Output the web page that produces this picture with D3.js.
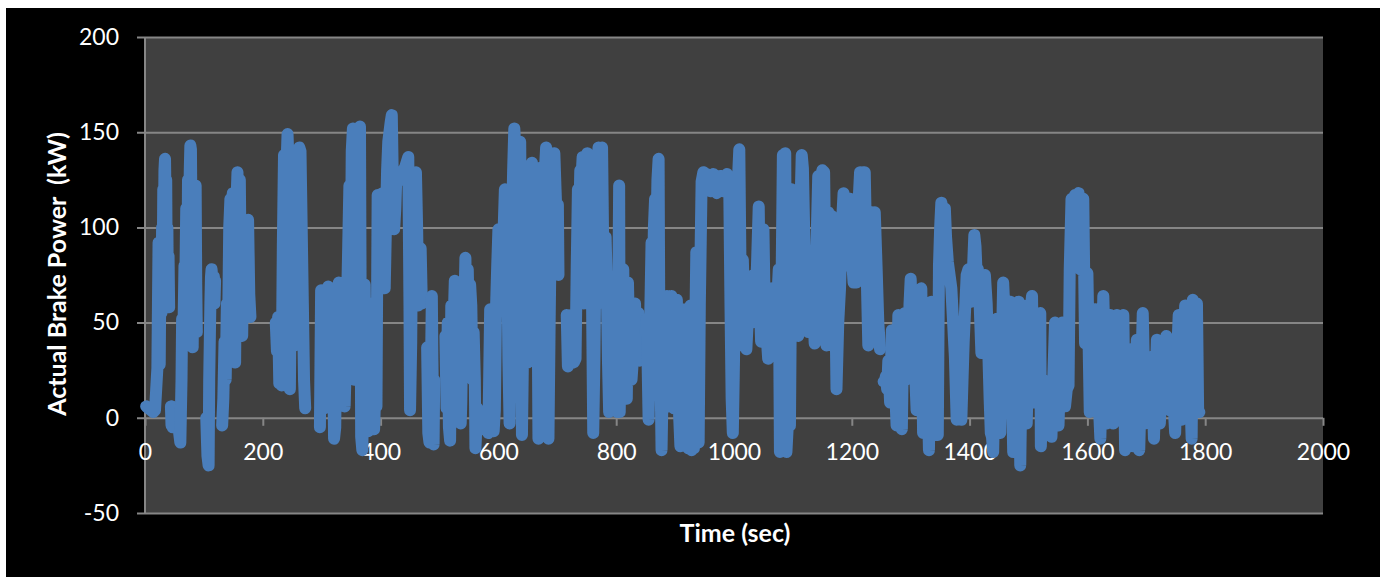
<!DOCTYPE html>
<html><head><meta charset="utf-8">
<script src="https://cdn.jsdelivr.net/npm/d3@7/dist/d3.min.js"></script>
<style>
body{margin:0;background:#fff;}
svg{display:block;}
text{font-family:Lato,"Open Sans",sans-serif;fill:#fff;}
</style>
</head><body>
<svg id="c" width="1385" height="579"></svg>
<script>
const xTicks = [0,200,400,600,800,1000,1200,1400,1600,1800,2000];
const yTicks = [-50,0,50,100,150,200];
const xTitle = "Time (sec)";
const yTitle = "Actual Brake Power  (kW)";

// [time (sec), power (kW)] — one array per unbroken stretch of the trace
const seg01 = [[2,6],[6,5],[10,4],[14,3],[17,4],[19,15],[21,26],[22,60],[23,92],[24,50],[25,28],[26,70],[27,90],[28,55],[29,100],[30,75],[31,120],[32,95],[33,130],[34,136],[35,110],[36,125],[37,70],[38,100],[39,60],[40,85],[41,58]];
const seg02 = [[44,6],[45,-4],[46,6],[47,-5]];
const seg03 = [[58,-8],[60,-13],[62,20],[63,52],[65,40],[67,80],[68,60],[70,110],[72,75],[73,125],[74,90],[76,130],[77,143],[78,141],[79,100],[80,60],[81,37],[82,80],[84,120],[85,60],[86,122],[87,70],[88,45]];
const seg04 = [[104,0],[106,-20],[108,-25],[109,20],[111,60],[112,74],[113,78],[115,70],[117,74],[118,60],[119,72]];
const seg05 = [[131,-4],[133,10],[135,40],[137,20],[139,60],[141,45],[143,100],[145,115],[147,70],[149,118],[151,40],[153,29],[155,110],[157,129],[159,90],[161,125],[163,60],[165,43],[167,100],[169,70],[171,55],[173,90],[175,104],[177,65],[179,53]];
const seg06 = [[222,50],[224,35],[226,53],[228,18],[230,45],[232,17],[234,90],[236,138],[238,60],[240,130],[242,149],[243,140],[245,40],[246,15],[248,85],[250,40],[252,80],[254,38],[256,70],[258,45],[260,120],[262,142],[264,140],[266,100],[268,60],[270,20],[272,5]];
const seg07 = [[297,-5],[299,67],[301,20],[303,60],[305,5],[307,55],[309,15],[311,69],[313,30],[315,50],[317,8],[319,45],[321,-11],[323,-5],[325,60],[327,20],[329,71],[331,40],[333,70],[335,8],[337,45],[339,6],[341,30],[343,60],[345,90],[347,122],[349,60],[351,140],[353,152],[355,20],[357,151],[359,100],[361,152],[363,30],[365,153],[367,-10],[369,-17],[371,30],[373,70],[375,5],[377,40],[379,-7],[381,20],[383,60],[385,-5],[387,10],[389,-6],[391,15],[393,6],[395,117],[397,80],[399,115],[401,100],[403,118],[405,90],[407,68],[409,100],[411,130],[413,145],[415,150],[417,155],[419,159],[421,120],[423,99],[425,110],[427,129],[430,126],[433,128],[436,125],[439,130],[442,132],[445,135],[447,137],[449,60],[450,4],[452,40],[454,120],[456,128],[458,90],[460,129],[462,100],[464,59],[466,80],[468,89],[470,60]];
const seg08 = [[479,37],[481,-8],[483,-13],[485,10],[487,64],[488,30],[490,-14],[491,20]];
const seg09 = [[510,43],[512,5],[514,50],[516,-5],[518,-12],[520,59],[522,20],[524,50],[526,72],[528,40],[530,55],[532,10],[534,30],[536,-3],[537,8],[539,50],[541,40],[544,84],[546,30],[548,78],[550,45],[552,70],[554,59],[556,20],[558,45],[560,20],[561,-16],[564,5],[567,-2],[570,3],[573,-4],[576,0],[579,-6],[583,-8],[586,57],[588,50],[590,15],[592,-7],[594,4],[596,58],[598,80],[600,99],[602,60],[605,99],[607,65],[609,100],[611,120],[613,70],[615,90],[617,30],[619,-3],[621,60],[623,100],[625,130],[627,152],[629,140],[631,80],[633,120],[635,100],[637,145],[639,60],[640,-9],[642,40],[644,80],[646,55],[648,95],[650,29],[652,110],[654,90],[656,125],[657,134],[659,60],[661,120],[663,85],[665,130],[667,40],[668,-11],[670,80],[671,129],[673,110],[675,132],[677,125],[679,130],[681,142],[683,60],[685,-11],[687,50],[689,100],[691,80],[693,130],[695,139],[697,120],[699,103],[701,112],[702,75]];
const seg10 = [[716,54],[718,27],[720,45],[722,30],[724,54],[726,35],[728,29],[731,31],[733,80],[735,120],[737,100],[739,130],[741,125],[743,137],[745,60],[747,129],[749,100],[751,139],[753,125],[755,70],[757,110],[759,61],[761,-8],[763,30],[764,61],[766,110],[768,130],[770,142],[772,141],[774,120],[776,142],[778,87],[780,60],[782,95],[784,71],[786,30],[788,3],[790,40],[792,50],[794,5],[796,60],[798,10],[800,50],[802,3],[804,80],[805,122],[806,3],[808,60],[810,70],[812,78],[814,30],[816,60],[818,10],[820,71],[822,40],[824,60],[826,20],[828,29],[830,45],[832,60],[834,30],[836,55],[838,55],[840,30]];
const seg11 = [[850,45],[852,52],[855,-1],[857,40],[860,92],[862,60],[864,100],[866,115],[868,90],[870,125],[872,136],[873,64],[875,30],[877,-17],[879,20],[881,59],[883,40],[886,64],[888,30],[890,6],[892,50],[894,64],[896,20],[898,5],[900,40],[903,62],[905,20],[907,0],[909,-15],[911,30],[913,57],[915,20],[917,57],[919,-10],[922,-16],[924,30],[926,59],[928,-17],[930,20],[932,-16],[934,40],[936,87],[938,20],[940,-13],[942,60],[945,124],[948,129],[951,126],[954,128],[957,122],[960,119],[963,124],[965,128],[968,121],[971,118],[974,122],[977,127],[980,120],[982,119],[985,124],[988,128],[990,125],[992,119],[994,60],[996,10],[998,-8],[1000,30],[1002,80],[1004,103],[1006,120],[1009,141],[1011,80],[1013,38],[1015,83],[1017,60],[1019,38],[1021,36],[1024,55],[1027,60],[1030,50],[1033,75],[1036,60],[1039,80],[1042,111],[1044,60],[1046,40],[1048,80],[1050,99],[1052,60],[1055,45],[1058,31],[1061,68],[1064,55],[1067,68],[1070,50],[1073,59],[1076,78],[1078,-18],[1080,40],[1081,78],[1083,138],[1085,120],[1087,139],[1089,-18],[1092,0],[1095,-4],[1098,120],[1101,80],[1104,68],[1107,50],[1109,43],[1112,100],[1115,138],[1117,131],[1120,85],[1123,60],[1126,45],[1129,70],[1132,87],[1135,55],[1137,39],[1140,90],[1143,127],[1146,120],[1150,130],[1153,129],[1155,80],[1157,38],[1160,108],[1163,90],[1166,106],[1169,80],[1172,66],[1174,15],[1177,50],[1180,68],[1183,100],[1186,118],[1188,100],[1191,80],[1194,100],[1197,115],[1200,85],[1203,71],[1206,90],[1208,71],[1211,110],[1214,129],[1217,128],[1219,129],[1222,129],[1225,80],[1228,38],[1231,60],[1234,108],[1237,80],[1239,108],[1242,80],[1245,50],[1248,36]];
const seg12 = [[1254,19],[1256,19],[1258,22],[1260,15],[1262,30],[1265,8],[1268,46],[1270,30],[1273,20],[1276,-4],[1279,54],[1281,40],[1283,20],[1285,-6],[1287,40],[1290,55],[1292,20],[1294,45],[1296,36],[1298,60],[1300,73],[1302,50],[1304,31],[1306,45],[1308,20],[1310,4],[1313,57],[1315,40],[1318,68],[1321,-8],[1323,40],[1325,50],[1327,59],[1329,10],[1331,-17],[1333,40],[1335,61],[1337,30],[1339,15],[1341,50],[1344,-9],[1346,-9],[1348,80],[1350,100],[1352,113],[1355,108],[1358,110],[1360,95],[1363,82],[1366,75],[1369,68],[1372,50],[1375,32],[1378,-1],[1381,4],[1384,4],[1386,-1],[1388,20],[1390,40],[1392,54],[1395,75],[1398,78],[1401,70],[1403,61],[1406,80],[1408,96],[1410,90],[1412,75],[1414,78],[1417,60],[1420,34],[1423,60],[1426,75],[1429,60],[1432,32],[1434,10],[1436,-8],[1438,-10],[1440,-18],[1443,30],[1446,52],[1449,20],[1452,-8],[1455,40],[1457,71],[1460,50],[1463,20],[1466,55],[1469,61],[1471,30],[1474,-18],[1477,30],[1480,55],[1483,61],[1486,-25],[1488,20],[1491,59],[1494,30],[1497,-3],[1500,40],[1503,55],[1506,64],[1508,8],[1511,30],[1514,50],[1517,40],[1520,55],[1521,-15],[1523,10],[1525,20],[1528,5],[1531,-3],[1534,10],[1537,-5],[1539,-10],[1542,20],[1545,50],[1548,30],[1551,-4],[1554,30],[1557,50],[1560,20],[1562,6],[1565,15],[1568,17],[1570,78],[1573,115],[1576,110],[1579,117],[1582,112],[1585,118],[1588,78],[1590,100],[1593,115],[1596,39],[1598,60],[1600,76],[1602,40],[1604,3],[1607,30],[1610,50],[1613,57],[1616,30],[1619,10],[1622,-11],[1624,20],[1627,64],[1630,30],[1633,-3],[1636,20],[1639,54],[1641,20],[1644,-3],[1647,30],[1650,54],[1653,10],[1656,30],[1658,50],[1661,54],[1664,-17],[1667,20],[1670,36],[1672,10],[1675,36],[1678,-15],[1681,20],[1684,41],[1688,-17],[1691,20],[1694,55],[1698,-3],[1700,10],[1703,32],[1706,5],[1709,32],[1713,-11],[1715,10],[1718,41],[1720,10],[1723,-3],[1726,20],[1729,4],[1731,30],[1734,43],[1737,20],[1740,4],[1744,20],[1749,-8],[1752,30],[1755,54],[1757,20],[1760,-1],[1763,30],[1766,59],[1768,20],[1771,1],[1774,20],[1777,-11],[1779,62],[1782,40],[1786,60],[1788,4],[1790,3]];
const segments = [seg01,seg02,seg03,seg04,seg05,seg06,seg07,seg08,seg09,seg10,seg11,seg12];

const svg = d3.select("#c");
const L = 145, R = 1323, T = 37, B = 513;
const x = d3.scaleLinear().domain([0,2000]).range([L,R]);
const y = d3.scaleLinear().domain([-50,200]).range([B,T]);
const gridColor = "#868686";
const fmt = d => String(d);

svg.append("rect").attr("x",6).attr("y",8).attr("width",1374).attr("height",569).attr("fill","#000");
svg.append("rect").attr("x",L).attr("y",T).attr("width",R-L).attr("height",B-T).attr("fill","#404040");

// horizontal gridlines + left ticks
const gy = svg.append("g").attr("transform",`translate(${L},0)`)
  .call(d3.axisLeft(y).tickValues(yTicks).tickSize(8).tickPadding(18).tickFormat(fmt));
gy.selectAll(".tick line").attr("stroke",gridColor).attr("stroke-width",2).attr("x2",R-L).attr("x1",-8);
gy.select(".domain").attr("stroke",gridColor).attr("stroke-width",2).attr("d",`M0,${T}V${B}`);
gy.selectAll("text").attr("fill","#fff").style("font-size","23px").attr("font-family",null);

// x axis at zero
const gx = svg.append("g").attr("transform",`translate(0,${y(0)})`)
  .call(d3.axisBottom(x).tickValues(xTicks).tickSize(8).tickPadding(26).tickFormat(fmt));
gx.select(".domain").remove();
gx.selectAll(".tick line").attr("stroke",gridColor).attr("stroke-width",2);
gx.selectAll("text").attr("fill","#fff").style("font-size","23px").attr("font-family",null).attr("dy","0.35em");

// trace
const line = d3.line().x(d=>x(d[0])).y(d=>y(d[1]));
svg.append("g").selectAll("path").data(segments).join("path")
  .attr("d",line).attr("fill","none").attr("stroke","#4a7ebb")
  .attr("stroke-width",12).attr("stroke-linejoin","round").attr("stroke-linecap","round");

// titles
svg.append("text").attr("x",735).attr("y",536).attr("text-anchor","middle")
  .attr("dominant-baseline","middle").style("font-size","25px").style("font-weight","bold").text(xTitle);
svg.append("text").attr("transform",`translate(60,274) rotate(-90)`).attr("text-anchor","middle")
  .attr("dominant-baseline","middle").style("font-size","25px").style("font-weight","bold")
  .style("white-space","pre").text(yTitle);
</script>
</body></html>
